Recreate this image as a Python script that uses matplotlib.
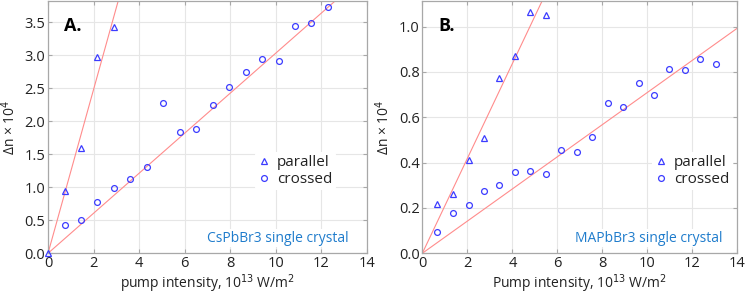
import matplotlib
matplotlib.use("Agg")
import matplotlib.pyplot as plt
from matplotlib.lines import Line2D
import numpy as np

plt.rcParams['font.family'] = ['Open Sans', 'DejaVu Sans']

# Panel A: CsPbBr3
a_par_x = [0.0, 0.73, 1.45, 2.17, 2.90]
a_par_y = [0.0, 0.94, 1.60, 2.97, 3.43]
a_cro_x = [0.73, 1.45, 2.17, 2.90, 3.62, 4.34, 5.06, 5.79, 6.51, 7.23, 7.95,
           8.68, 9.40, 10.12, 10.84, 11.55, 12.30]
a_cro_y = [0.43, 0.50, 0.77, 0.99, 1.12, 1.31, 2.27, 1.83, 1.88, 2.24, 2.51,
           2.74, 2.94, 2.91, 3.44, 3.48, 3.73]
a_slopes = [1.24, 0.303]

# Panel B: MAPbBr3
b_par_x = [0.67, 1.36, 2.06, 2.74, 3.42, 4.12, 4.80, 5.50]
b_par_y = [0.217, 0.26, 0.41, 0.51, 0.773, 0.87, 1.066, 1.05]
b_cro_x = [0.67, 1.36, 2.06, 2.74, 3.42, 4.12, 4.80, 5.50, 6.18, 6.86, 7.56,
           8.24, 8.92, 9.61, 10.30, 10.98, 11.66, 12.36, 13.04]
b_cro_y = [0.094, 0.179, 0.215, 0.275, 0.303, 0.36, 0.363, 0.35, 0.457, 0.445,
           0.514, 0.663, 0.643, 0.75, 0.70, 0.811, 0.81, 0.857, 0.833]
b_slopes = [0.209, 0.0709]

xticks = [0, 2, 4, 6, 8, 10, 12, 14]
a_yticks = [0.0, 0.5, 1.0, 1.5, 2.0, 2.5, 3.0, 3.5]
b_yticks = [0.0, 0.2, 0.4, 0.6, 0.8, 1.0]

MK = '#3c3cff'
LN = '#ff8c8c'
TXT_BLUE = '#1f7ccc'
SPINE = '#a8a8a8'
TMS, CMS = 4.6, 4.2

fig = plt.figure(figsize=(7.48, 2.95), dpi=100)
axA = fig.add_axes([0.0642, 0.1414, 0.4264, 0.8556])
axB = fig.add_axes([0.5646, 0.1414, 0.4211, 0.8556])

def style(ax, xlabel, ylim, yticks, fmt):
    ax.set_xlim(0, 14)
    ax.set_ylim(*ylim)
    ax.set_xticks(xticks)
    ax.set_yticks(yticks)
    ax.set_yticklabels([fmt.format(v) for v in yticks])
    ax.grid(True, color='#e6e6e6', lw=0.8)
    ax.set_axisbelow(True)
    for s in ax.spines.values():
        s.set_color(SPINE)
        s.set_linewidth(0.9)
    ax.tick_params(direction='in', length=3, color=SPINE, top=True, right=True,
                   labelsize=10.5, pad=2, labelcolor='#222222')
    ax.set_xlabel(xlabel, fontsize=10, labelpad=1, color='#222222')
    ax.set_ylabel('Δn × 10$^{4}$', fontsize=10, labelpad=4, color='#222222')

def draw(ax, px, py, cx, cy, slopes):
    xx = np.array([0, 14])
    for s in slopes:
        ax.plot(xx, s * xx, color=LN, lw=0.8, zorder=2)
    ax.plot(px, py, ls='none', marker='^', ms=TMS, mfc='none', mec=MK, mew=0.9, zorder=3, clip_on=False)
    ax.plot(cx, cy, ls='none', marker='o', ms=CMS, mfc='none', mec=MK, mew=0.9, zorder=3)

draw(axA, a_par_x, a_par_y, a_cro_x, a_cro_y, a_slopes)
draw(axB, b_par_x, b_par_y, b_cro_x, b_cro_y, b_slopes)
style(axA, 'pump intensity, 10$^{13}$ W/m$^{2}$', (0, 3.82), a_yticks, '{:.1f}')
style(axB, 'Pump intensity, 10$^{13}$ W/m$^{2}$', (0, 1.113), b_yticks, '{:.1f}')

handles = [Line2D([], [], ls='none', marker='^', ms=TMS, mfc='none', mec=MK, mew=0.9),
           Line2D([], [], ls='none', marker='o', ms=CMS, mfc='none', mec=MK, mew=0.9)]
for ax, x0 in ((axA, 0.625), (axB, 0.705)):
    leg = ax.legend(handles, ['parallel', 'crossed'], loc='center left',
                    bbox_to_anchor=(x0, 0.325), frameon=True, fontsize=11,
                    handlelength=0.8, handletextpad=0.45, labelspacing=0.1,
                    borderpad=0.2, labelcolor='#222222')
    leg.get_frame().set_edgecolor('none')
    leg.get_frame().set_facecolor('white')
    leg.get_frame().set_alpha(1)

axA.text(0.944, 0.06, 'CsPbBr3 single crystal', transform=axA.transAxes, ha='right', va='center',
         fontsize=10, color=TXT_BLUE, bbox=dict(fc='white', ec='none', pad=1))
axB.text(0.954, 0.06, 'MAPbBr3 single crystal', transform=axB.transAxes, ha='right', va='center',
         fontsize=10, color=TXT_BLUE, bbox=dict(fc='white', ec='none', pad=1))

axA.text(0.076, 0.90, 'A.', transform=axA.transAxes, ha='center', va='center',
         fontsize=13, fontweight='bold', color='black')
axB.text(0.076, 0.90, 'B.', transform=axB.transAxes, ha='center', va='center',
         fontsize=13, fontweight='bold', color='black')

fig.savefig('out.png', dpi=100)
